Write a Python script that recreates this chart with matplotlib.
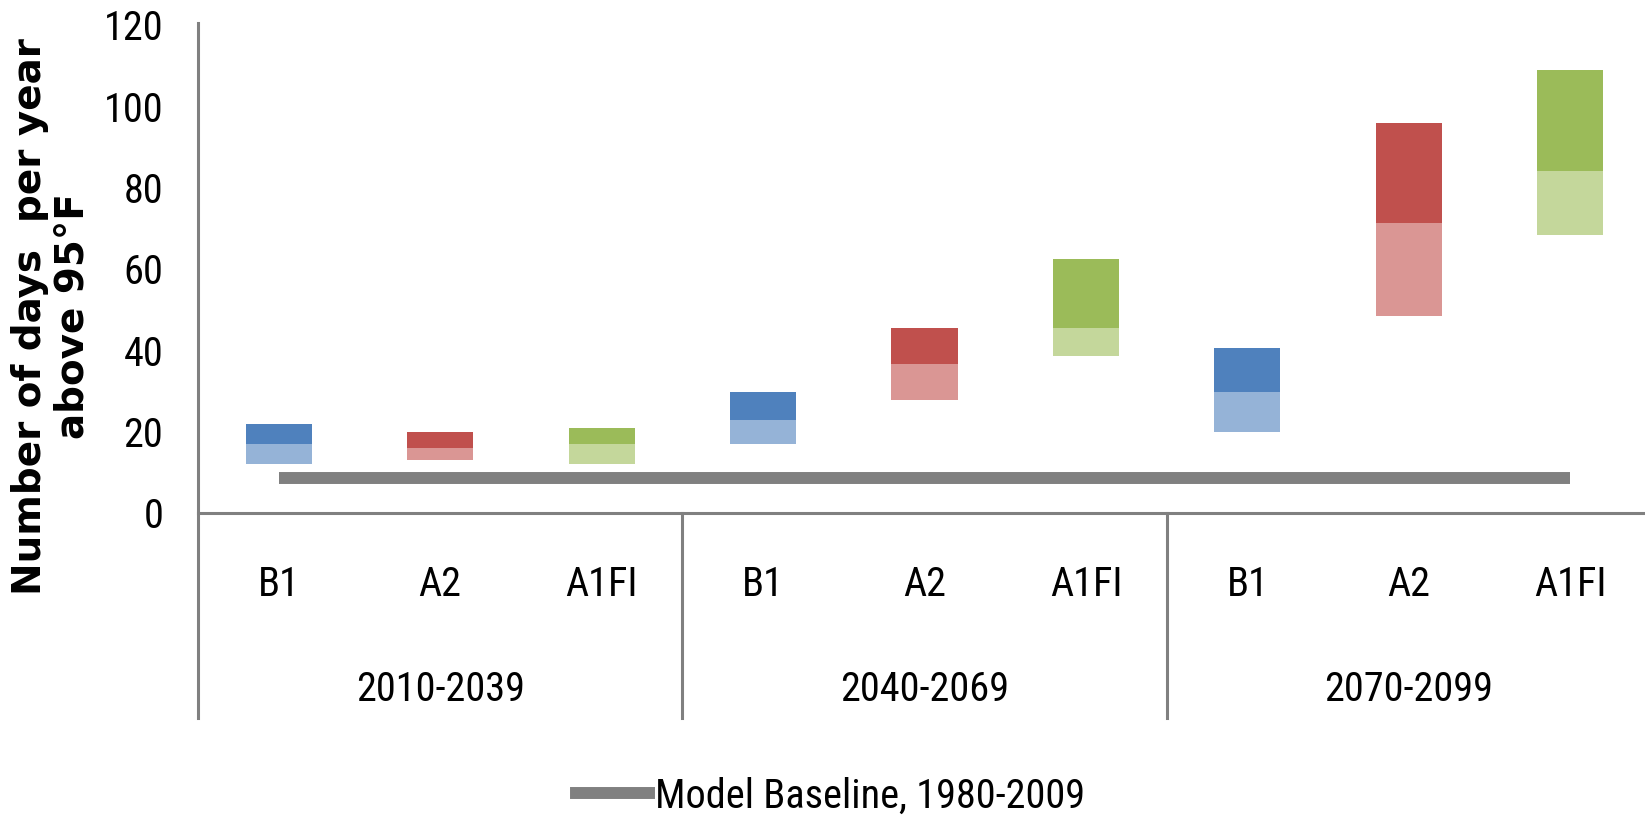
"""Days per year above 95°F: projected ranges by scenario and period."""

import matplotlib.pyplot as plt
from matplotlib.lines import Line2D

periods = ["2010-2039", "2040-2069", "2070-2099"]
scenarios = ["B1", "A2", "A1FI"]

# lower bound, middle split, upper bound (days per year), per period x scenario
low = [12, 13, 12, 17, 27.8, 38.6, 19.9, 48.4, 68.4]
mid = [17, 16, 17, 22.9, 36.6, 45.5, 29.8, 71.3, 84.1]
high = [21.9, 19.9, 20.9, 29.8, 45.5, 62.5, 40.6, 95.9, 108.9]
baseline = 8.6

dark = {"B1": "#4F81BD", "A2": "#C0504D", "A1FI": "#9BBB59"}
light = {"B1": "#95B3D7", "A2": "#DA9694", "A1FI": "#C4D79B"}
grey = "#808080"
narrow = dict(family=["Roboto Condensed", "DejaVu Sans"], stretch="condensed",
              size=29)

W, H = 1645, 819
fig = plt.figure(figsize=(W / 100, H / 100), dpi=100)
x0, x1 = 198, 1651
y_top, y_zero = 25, 513
ax = fig.add_axes([x0 / W, 1 - y_zero / H, (x1 - x0) / W, (y_zero - y_top) / H])

n = len(periods) * len(scenarios)
xs = [i + 0.5 for i in range(n)]
labels = scenarios * len(periods)
for x, s, lo, m, hi in zip(xs, labels, low, mid, high):
    ax.bar(x, m - lo, bottom=lo, width=0.41, color=light[s], linewidth=0)
    ax.bar(x, hi - m, bottom=m, width=0.41, color=dark[s], linewidth=0)

ax.plot([xs[0], xs[-1]], [baseline, baseline], color=grey, lw=8.6,
        solid_capstyle="butt")

ax.set_xlim(0, n)
ax.set_ylim(0, 120)
ax.set_yticks(range(0, 121, 20))
ax.set_xticks([])
ax.tick_params(axis="y", length=0, pad=25)
for t in ax.get_yticklabels():
    t.set_fontfamily(narrow["family"])
    t.set_fontstretch(narrow["stretch"])
    t.set_fontsize(narrow["size"])
for sp in ax.spines.values():
    sp.set_visible(False)

# axis lines, extended down through the category rows
bottom = -(718 - y_zero) / ((y_zero - y_top) / 120)
ax.plot([0, 0], [120.5, bottom], color=grey, lw=2.2, clip_on=False)
ax.plot([0, n], [0, 0], color=grey, lw=2.2, clip_on=False)
for k in range(1, len(periods)):
    ax.plot([3 * k, 3 * k], [0, bottom], color=grey, lw=2.2, clip_on=False)

for x, s in zip(xs, labels):
    ax.text(x, -17.7, s, ha="center", va="center", **narrow)
for k, p in enumerate(periods):
    ax.text(3 * k + 1.5, -43.5, p, ha="center", va="center", **narrow)

fig.text(30 / W, 1 - 317 / H, "Number of days  per year", rotation=90,
         ha="center", va="center", fontsize=28, fontweight="bold",
         family="DejaVu Sans")
fig.text(73 / W, 1 - 316 / H, "above 95°F", rotation=90,
         ha="center", va="center", fontsize=28, fontweight="bold",
         family="DejaVu Sans")

handle = Line2D([], [], color=grey, lw=8.6)
fig.legend([handle], ["Model Baseline, 1980-2009"], loc="center",
           bbox_to_anchor=(0.505, 1 - 796 / H), frameon=False,
           prop=narrow, handlelength=1.8, handletextpad=0.15)

fig.savefig("out.png", dpi=100)
